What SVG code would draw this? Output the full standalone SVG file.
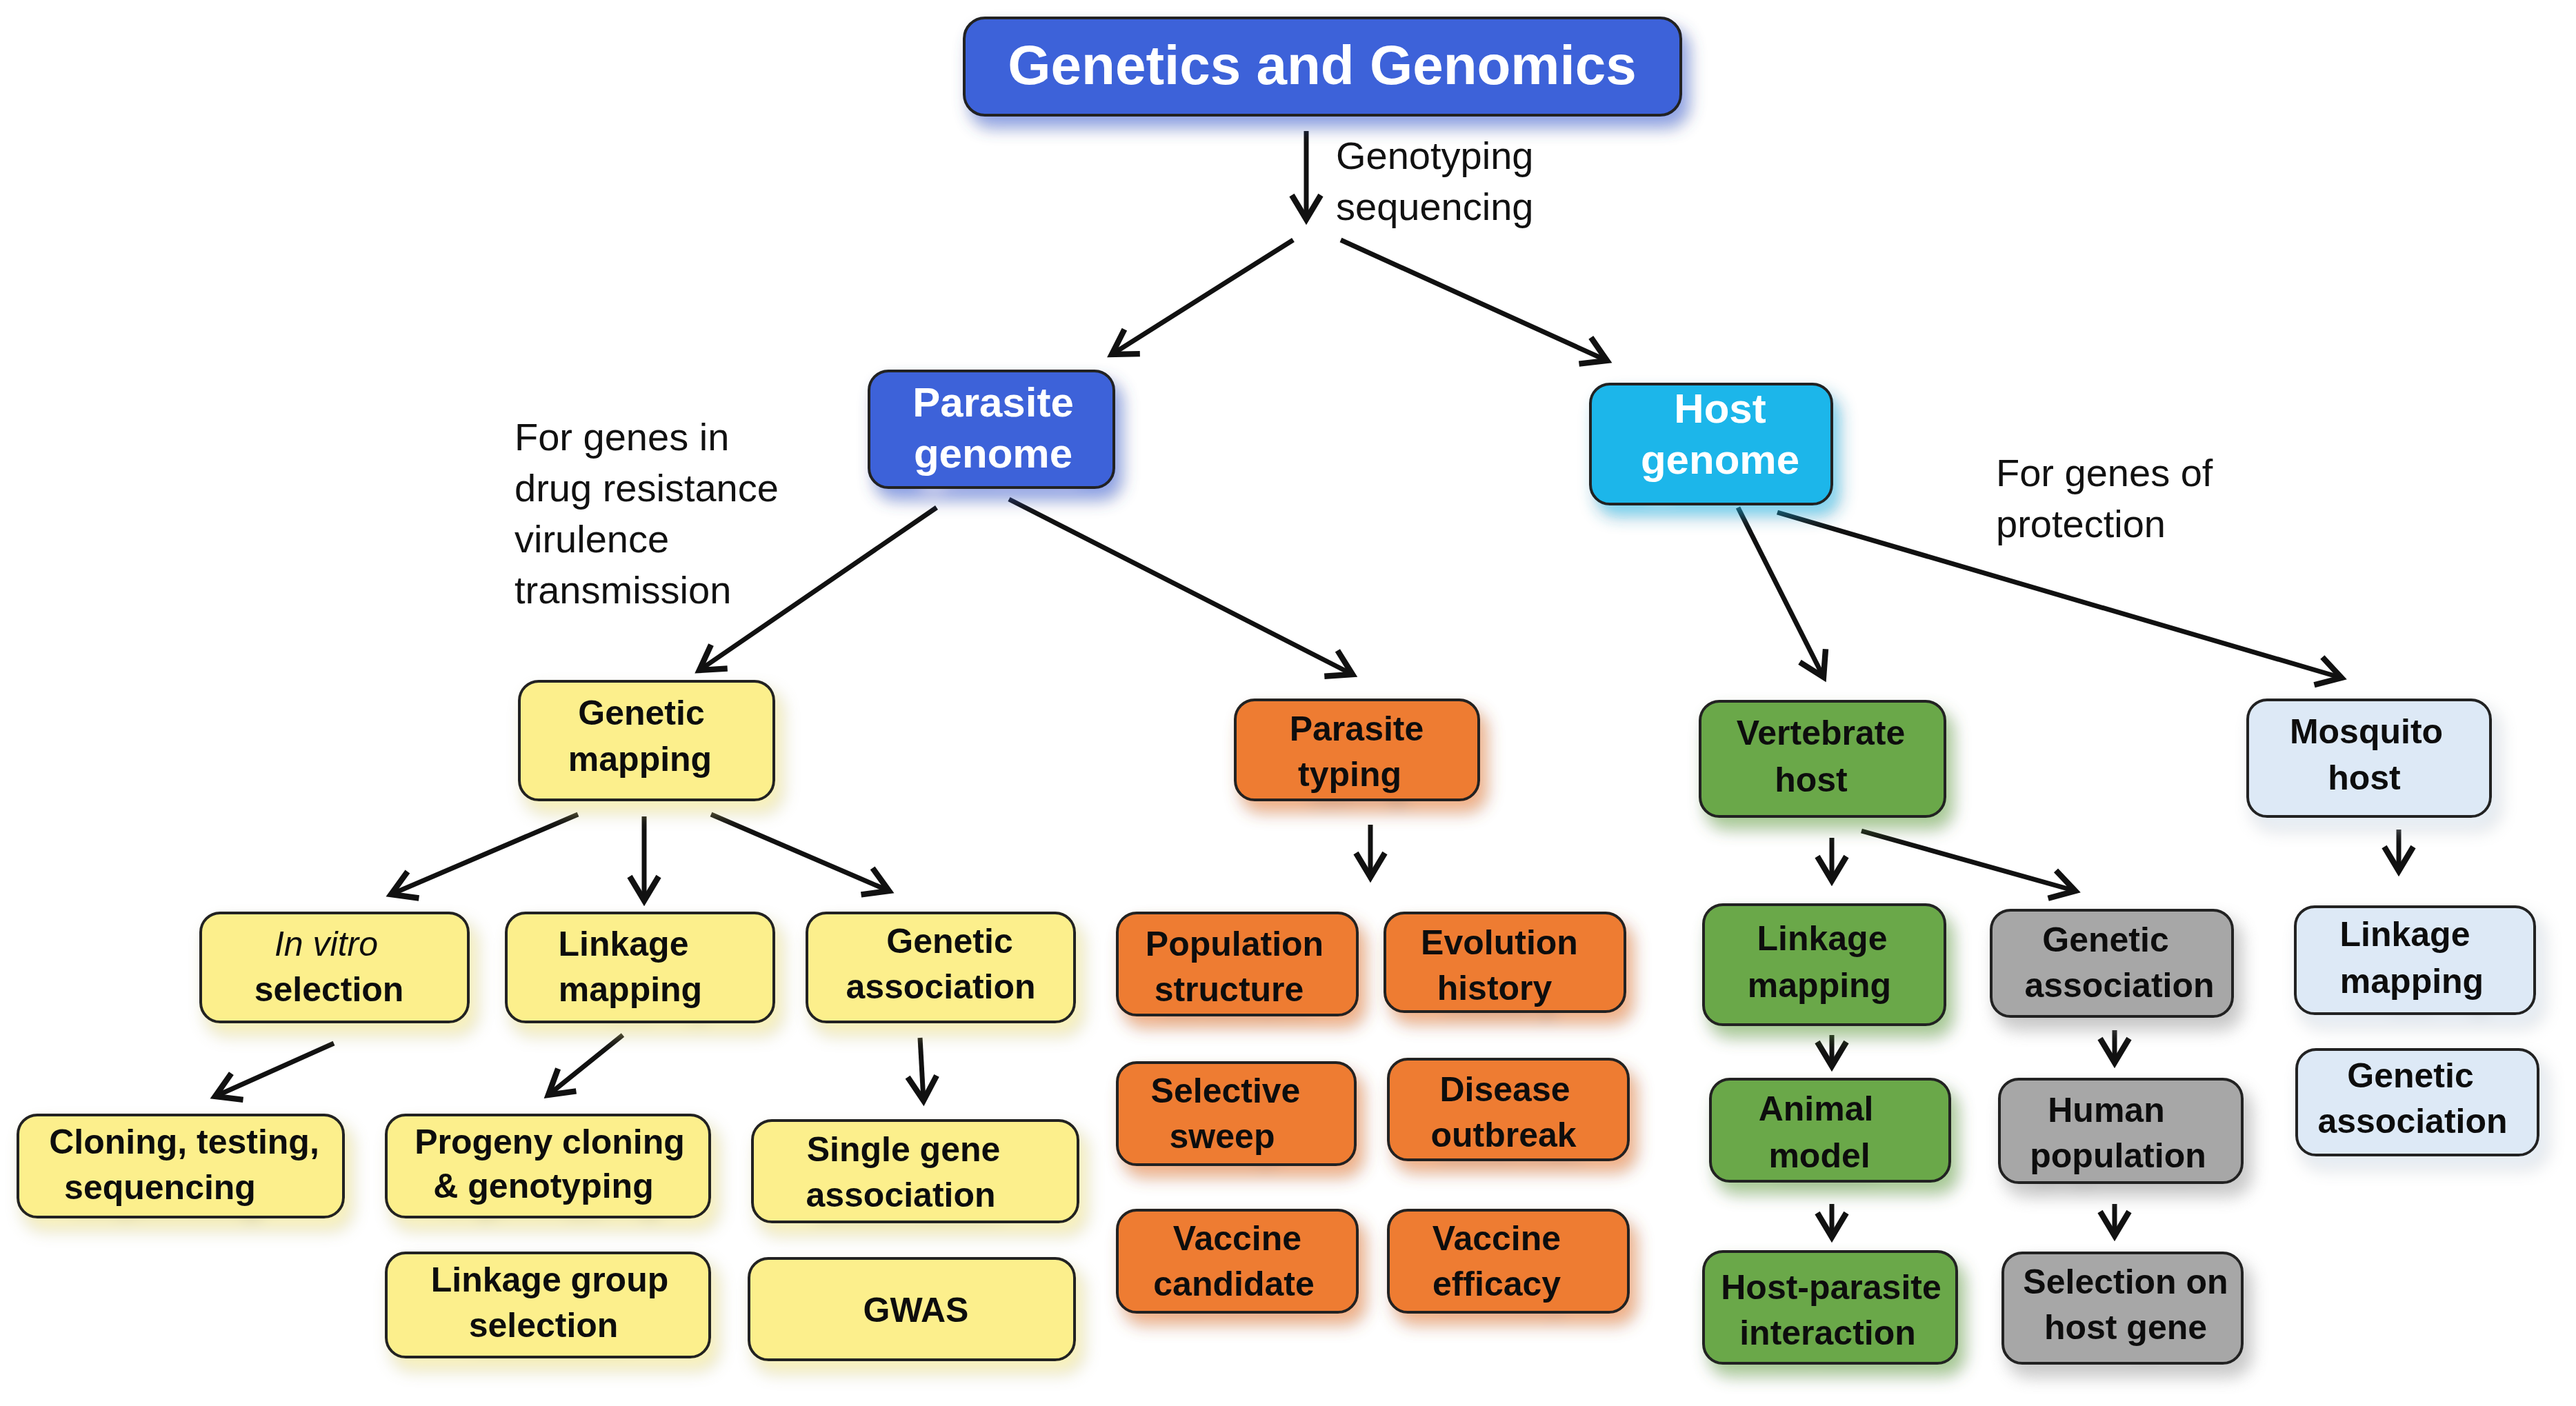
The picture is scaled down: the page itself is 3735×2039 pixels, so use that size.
<svg xmlns="http://www.w3.org/2000/svg" width="3735" height="2039" viewBox="0 0 3735 2039">
<style>
text{font-family:"Liberation Sans",Arial,sans-serif;font-weight:bold;font-size:50px;text-anchor:middle;fill:#111}
.ann{font-weight:normal;font-size:56px;text-anchor:start}
.w{fill:#fff}
rect{stroke:#222;stroke-width:4}
.b{fill:#3d62d9}.c{fill:#1ab6ea}.y{fill:#fcef8c}.o{fill:#ee7c32}.g{fill:#6aa84a}.l{fill:#dde9f6}.gr{fill:#a7a7a7}
.con line{stroke:#111;stroke-width:7;marker-end:url(#ah)}
</style>
<defs>
<filter id="sh" x="-20%" y="-20%" width="150%" height="160%">
<feGaussianBlur in="SourceGraphic" stdDeviation="12" result="b"/>
<feOffset in="b" dx="10" dy="16" result="o"/>
<feComponentTransfer in="o" result="t"><feFuncA type="linear" slope="0.6"/></feComponentTransfer>
<feMerge><feMergeNode in="t"/><feMergeNode in="SourceGraphic"/></feMerge>
</filter>
<marker id="ah" markerWidth="8" markerHeight="8" refX="6" refY="4" orient="auto" markerUnits="strokeWidth">
<path d="M1,1 L6,4 L1,7" fill="none" stroke="#111" stroke-width="1.2"/>
</marker>
</defs>
<g class="con">
<line x1="1894" y1="190" x2="1894" y2="318"/>
<line x1="1875" y1="348" x2="1612" y2="514"/>
<line x1="1944" y1="348" x2="2330" y2="523"/>
<line x1="1358" y1="736" x2="1014" y2="972"/>
<line x1="1463" y1="724" x2="1961" y2="978"/>
<line x1="2520" y1="736" x2="2644" y2="982"/>
<line x1="2577" y1="743" x2="3395" y2="983"/>
<line x1="838" y1="1181" x2="567" y2="1297"/>
<line x1="934" y1="1184" x2="934" y2="1306"/>
<line x1="1031" y1="1181" x2="1289" y2="1292"/>
<line x1="1987" y1="1196" x2="1987" y2="1272"/>
<line x1="2656" y1="1215" x2="2656" y2="1277"/>
<line x1="2699" y1="1205" x2="3009" y2="1292"/>
<line x1="3478" y1="1203" x2="3478" y2="1263"/>
<line x1="484" y1="1513" x2="312" y2="1590"/>
<line x1="903" y1="1501" x2="795" y2="1588"/>
<line x1="1334" y1="1505" x2="1339" y2="1596"/>
<line x1="2656" y1="1501" x2="2656" y2="1546"/>
<line x1="3066" y1="1494" x2="3066" y2="1541"/>
<line x1="2656" y1="1746" x2="2656" y2="1794"/>
<line x1="3066" y1="1746" x2="3066" y2="1792"/>
</g>
<text class="ann" x="1937" y="245">Genotyping</text>
<text class="ann" x="1937" y="319">sequencing</text>
<text class="ann" x="746" y="653">For genes in</text>
<text class="ann" x="746" y="727">drug resistance</text>
<text class="ann" x="746" y="801">virulence</text>
<text class="ann" x="746" y="875">transmission</text>
<text class="ann" x="2894" y="705">For genes of</text>
<text class="ann" x="2894" y="779">protection</text>
<g id="title" filter="url(#sh)"><rect class="b" x="1398" y="26" width="1039" height="141" rx="30"/><text class="w" x="1917" y="122" style="font-size:80px">Genetics and Genomics</text></g>
<g id="parasite" filter="url(#sh)"><rect class="b" x="1260" y="538" width="355" height="169" rx="28"/><text class="w" x="1440" y="604" style="font-size:60px">Parasite</text><text class="w" x="1440" y="678" style="font-size:60px">genome</text></g>
<g id="host" filter="url(#sh)"><rect class="c" x="2306" y="557" width="350" height="174" rx="28"/><text class="w" x="2494" y="613" style="font-size:60px">Host</text><text class="w" x="2494" y="687" style="font-size:60px">genome</text></g>
<g id="gm" filter="url(#sh)"><rect class="y" x="753" y="988" width="369" height="172" rx="28"/><text x="930" y="1051">Genetic</text><text x="928" y="1118">mapping</text></g>
<g id="pt" filter="url(#sh)"><rect class="o" x="1791" y="1015" width="353" height="145" rx="28"/><text x="1967" y="1074">Parasite</text><text x="1957" y="1140">typing</text></g>
<g id="vh" filter="url(#sh)"><rect class="g" x="2465" y="1017" width="355" height="167" rx="28"/><text x="2640" y="1080">Vertebrate</text><text x="2626" y="1148">host</text></g>
<g id="mh" filter="url(#sh)"><rect class="l" x="3259" y="1015" width="352" height="169" rx="28"/><text x="3431" y="1078">Mosquito</text><text x="3428" y="1145">host</text></g>
<g id="iv" filter="url(#sh)"><rect class="y" x="291" y="1324" width="388" height="158" rx="28"/><text x="473" y="1386" style="font-weight:normal;font-style:italic">In vitro</text><text x="477" y="1452">selection</text></g>
<g id="lmy" filter="url(#sh)"><rect class="y" x="734" y="1324" width="388" height="158" rx="28"/><text x="904" y="1386">Linkage</text><text x="914" y="1452">mapping</text></g>
<g id="gay" filter="url(#sh)"><rect class="y" x="1170" y="1324" width="388" height="158" rx="28"/><text x="1377" y="1382">Genetic</text><text x="1364" y="1448">association</text></g>
<g id="clon" filter="url(#sh)"><rect class="y" x="26" y="1617" width="472" height="148" rx="28"/><text x="267" y="1673">Cloning, testing,</text><text x="232" y="1739">sequencing</text></g>
<g id="prog" filter="url(#sh)"><rect class="y" x="560" y="1617" width="469" height="148" rx="28"/><text x="797" y="1673">Progeny cloning</text><text x="788" y="1737">&amp; genotyping</text></g>
<g id="sga" filter="url(#sh)"><rect class="y" x="1091" y="1625" width="472" height="147" rx="28"/><text x="1310" y="1684">Single gene</text><text x="1306" y="1750">association</text></g>
<g id="lgs" filter="url(#sh)"><rect class="y" x="560" y="1817" width="469" height="151" rx="28"/><text x="797" y="1873">Linkage group</text><text x="788" y="1939">selection</text></g>
<g id="gwas" filter="url(#sh)"><rect class="y" x="1086" y="1825" width="472" height="147" rx="28"/><text x="1328" y="1917">GWAS</text></g>
<g id="ps" filter="url(#sh)"><rect class="o" x="1620" y="1324" width="348" height="148" rx="28"/><text x="1790" y="1386">Population</text><text x="1782" y="1452">structure</text></g>
<g id="eh" filter="url(#sh)"><rect class="o" x="2008" y="1324" width="348" height="143" rx="28"/><text x="2174" y="1384">Evolution</text><text x="2167" y="1450">history</text></g>
<g id="ss" filter="url(#sh)"><rect class="o" x="1620" y="1541" width="345" height="148" rx="28"/><text x="1777" y="1599">Selective</text><text x="1772" y="1665">sweep</text></g>
<g id="do" filter="url(#sh)"><rect class="o" x="2013" y="1536" width="348" height="146" rx="28"/><text x="2182" y="1597">Disease</text><text x="2180" y="1663">outbreak</text></g>
<g id="vc" filter="url(#sh)"><rect class="o" x="1620" y="1755" width="348" height="148" rx="28"/><text x="1794" y="1813">Vaccine</text><text x="1789" y="1879">candidate</text></g>
<g id="ve" filter="url(#sh)"><rect class="o" x="2013" y="1755" width="348" height="148" rx="28"/><text x="2170" y="1813">Vaccine</text><text x="2170" y="1879">efficacy</text></g>
<g id="lmg" filter="url(#sh)"><rect class="g" x="2470" y="1312" width="350" height="174" rx="28"/><text x="2642" y="1378">Linkage</text><text x="2638" y="1446">mapping</text></g>
<g id="gag" filter="url(#sh)"><rect class="gr" x="2887" y="1320" width="350" height="154" rx="28"/><text x="3053" y="1380">Genetic</text><text x="3073" y="1446">association</text></g>
<g id="am" filter="url(#sh)"><rect class="g" x="2480" y="1565" width="347" height="148" rx="28"/><text x="2633" y="1625">Animal</text><text x="2638" y="1693">model</text></g>
<g id="hp" filter="url(#sh)"><rect class="gr" x="2899" y="1565" width="352" height="150" rx="28"/><text x="3054" y="1627">Human</text><text x="3071" y="1693">population</text></g>
<g id="hpi" filter="url(#sh)"><rect class="g" x="2470" y="1815" width="367" height="162" rx="28"/><text x="2655" y="1884">Host-parasite</text><text x="2650" y="1950">interaction</text></g>
<g id="shg" filter="url(#sh)"><rect class="gr" x="2904" y="1817" width="347" height="160" rx="28"/><text x="3082" y="1876">Selection on</text><text x="3082" y="1942">host gene</text></g>
<g id="lml" filter="url(#sh)"><rect class="l" x="3328" y="1315" width="347" height="155" rx="28"/><text x="3487" y="1372">Linkage</text><text x="3497" y="1440">mapping</text></g>
<g id="gal" filter="url(#sh)"><rect class="l" x="3330" y="1522" width="350" height="153" rx="28"/><text x="3495" y="1577">Genetic</text><text x="3498" y="1643">association</text></g>
</svg>
